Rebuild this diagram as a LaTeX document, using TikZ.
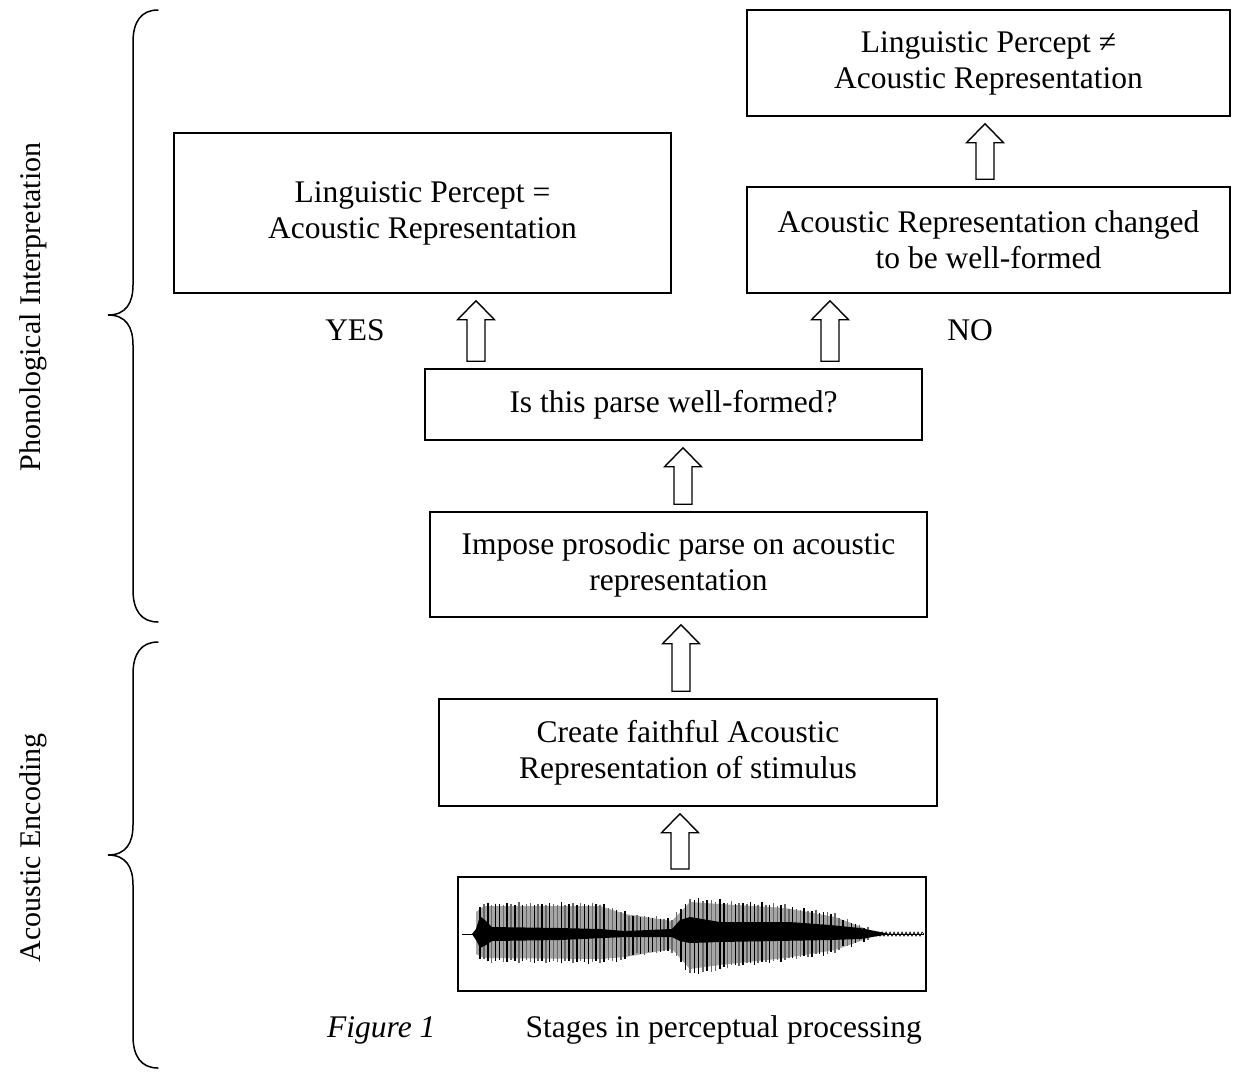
\documentclass[tikz,border=0pt]{standalone}
\usepackage{fontspec}
\setmainfont{Liberation Serif}
\usetikzlibrary{calc}
\tikzset{
  box/.style={draw, line width=1.5pt, align=center, inner sep=0pt,
    font=\fontsize{31.5}{36}\selectfont},
  blockarr/.style={draw, line width=1.4pt, fill=white, line join=miter},
  lbl/.style={font=\fontsize{31.5}{36}\selectfont, inner sep=0pt},
  side/.style={font=\fontsize{30}{34}\selectfont, inner sep=0pt, rotate=90},
  brace/.style={line width=1.5pt, line cap=round},
  spikeA/.style={line width=1.5pt, black},
  spikeB/.style={line width=1.5pt, black!60},
}
\newcommand\boxat[6]{%
  \node[box, minimum width={#4-#2}, minimum height={#5-#3}] (#1)
    at ({(#2+#4)/2},{(#3+#5)/2}) {#6};}
\newcommand\blkarrow[3]{%
  \draw[blockarr] let \p1=(#2.north -| #1), \p2=(#3.south -| #1) in
    (\x1-9pt,\y1+7pt) -- (\x1-9pt,\y2-26pt) -- (\x1-18.5pt,\y2-26pt) --
    (\x1,\y2-7pt) -- (\x1+18.5pt,\y2-26pt) -- (\x1+9pt,\y2-26pt) --
    (\x1+9pt,\y1+7pt) -- cycle;}
\begin{document}
\begin{tikzpicture}[x=1pt,y=-1pt]
\useasboundingbox[fill=white] (0,0) rectangle (1244,1076);

% braces
\draw[brace] (158,10) .. controls (141,10) and (133,22) .. (133,42) -- (133,285)
  .. controls (133,303) and (126,315) .. (108,315)
  .. controls (126,315) and (133,327) .. (133,345) -- (133,590)
  .. controls (133,610) and (141,622) .. (158,622);
\draw[brace] (158,642) .. controls (141,642) and (133,654) .. (133,674) -- (133,825)
  .. controls (133,843) and (126,855) .. (108,855)
  .. controls (126,855) and (133,867) .. (133,885) -- (133,1036)
  .. controls (133,1056) and (141,1068) .. (158,1068);
\node[side] (phon) at (33,307) {Phonological Interpretation};
\node[side] (acen) at (33,848) {Acoustic Encoding};

% boxes
\boxat{lpneq}{747}{10}{1230}{116}{Linguistic Percept ≠\\Acoustic Representation}
\boxat{lpeq}{174}{133}{671}{293}{Linguistic Percept =\\Acoustic Representation}
\boxat{archg}{747}{187}{1230}{293}{Acoustic Representation changed\\to be well-formed}
\boxat{isp}{425}{369}{922}{440}{Is this parse well-formed?}
\boxat{imp}{430}{512}{927}{617}{Impose prosodic parse on acoustic\\representation}
\boxat{cre}{439}{699}{937}{806}{Create faithful Acoustic\\Representation of stimulus}
\node[draw, line width=2pt, minimum width=468, minimum height=114, inner sep=0pt]
  (wave) at (692,934) {};

% waveform
\begin{scope}
\clip (460,879) rectangle (924,989);
\draw[line width=0.8pt] (462,934) -- (924,934);
% grey envelope
\fill[black!35] (476,912) -- (484,906) -- (600,906) -- (625,914) -- (672,921)
  -- (690,902) -- (720,904) -- (785,908) -- (835,917) -- (872,931)
  -- (872,937) -- (835,950) -- (785,958) -- (720,965) -- (690,969) -- (672,949)
  -- (625,957) -- (600,959) -- (484,958) -- (476,954) -- cycle;
\foreach \xa/\xb/\ua/\ub/\da/\db in {
  476/484/26/31/24/27, 484/600/31/31/28/29, 600/625/31/22/29/27,
  625/672/20/16/22/18, 672/690/17/36/18/41, 690/720/36/34/41/37,
  720/785/33/30/34/27, 785/835/28/21/26/20, 835/872/19/5/17/5}{
  \pgfmathsetmacro\n{max(1,int((\xb-\xa)/3.8))}
  \foreach \k in {1,...,\n}{
    \pgfmathsetmacro\t{\k/\n}
    \pgfmathsetmacro\xx{\xa+\t*(\xb-\xa)}
    \pgfmathsetmacro\jit{3*sin(\xx*17)}
    \pgfmathsetmacro\uu{\ua+\t*(\ub-\ua)-abs(\jit)+1}
    \pgfmathsetmacro\dd{\da+\t*(\db-\da)-abs(3*cos(\xx*13))+1}
    \pgfmathsetmacro\odd{int(mod(\k+round(\xx),2))}
    \ifnum\odd=1
      \draw[spikeA] (\xx,934-\uu) -- (\xx,934+\dd);
    \else
      \draw[spikeB] (\xx,934-\uu) -- (\xx,934+\dd);
    \fi
  }
}
\fill[black] (472,934) -- (476,929) -- (480,916) -- (486,921) -- (492,927) -- (560,928)
  -- (600,929) -- (625,931) -- (672,929) -- (680,920) -- (690,917) -- (720,922)
  -- (790,922) -- (830,925) -- (860,928) -- (880,932) -- (890,934)
  -- (860,939) -- (830,940) -- (720,942) -- (690,943) -- (680,941) -- (672,937)
  -- (625,937) -- (560,940) -- (492,941) -- (486,945) -- (480,948) -- (476,940) -- cycle;
\draw[line width=0.7pt] (872,934) \foreach \q in {0,...,24}{ -- ({874+\q*2},{934+2*(mod(\q,2)*2-1)})} -- (924,934);
\end{scope}

% arrows
\coordinate (xa1) at (476,0);
\coordinate (xa2) at (830,0);
\coordinate (xa3) at (985,0);
\coordinate (xa4) at (683,0);
\coordinate (xa5) at (681,0);
\coordinate (xa6) at (680,0);
\blkarrow{xa1}{isp}{lpeq}
\blkarrow{xa2}{isp}{archg}
\blkarrow{xa3}{archg}{lpneq}
\blkarrow{xa4}{imp}{isp}
\blkarrow{xa5}{cre}{imp}
\blkarrow{xa6}{wave}{cre}

% labels
\node[lbl] (yes) at (355,330) {YES};
\node[lbl] (no) at (970,330) {NO};
\node[lbl, anchor=base west] (fig) at (327,1037) {\itshape Figure 1};
\node[lbl, anchor=base east] (cap) at (922,1037) {Stages in perceptual processing};
\end{tikzpicture}
\end{document}
